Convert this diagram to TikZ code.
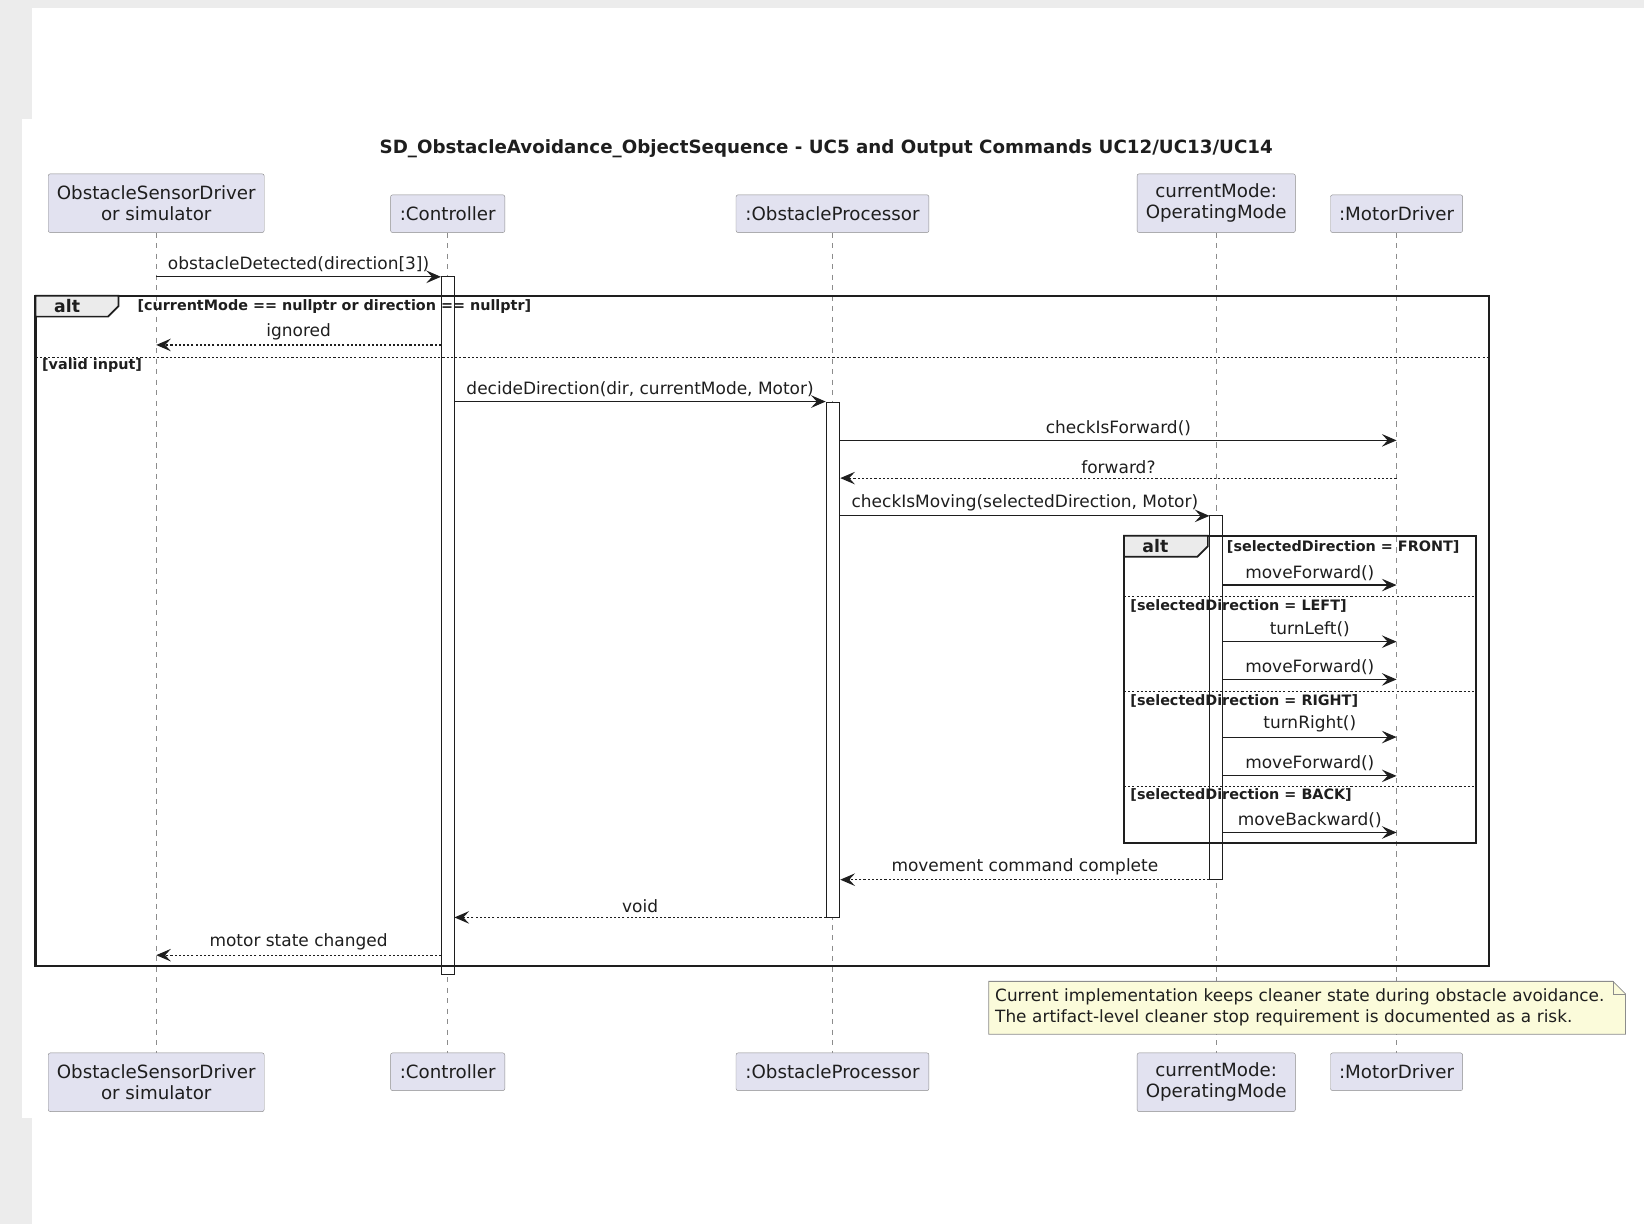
\documentclass[tikz,border=0pt]{standalone}
\usepackage{fontspec}
\setmainfont{DejaVu Sans}
\usetikzlibrary{arrows.meta,positioning,backgrounds}

\definecolor{partfill}{HTML}{E2E2F0}
\definecolor{partline}{HTML}{8C8C8C}
\definecolor{notefill}{HTML}{FBFBDA}
\definecolor{pagegray}{HTML}{ECECEC}
\definecolor{ink}{HTML}{1E1E1E}

\tikzset{
  part/.style={draw=partline, fill=partfill, rounded corners=2pt, align=center,
    inner xsep=8pt, inner ysep=9pt, minimum height=36pt,
    font=\fontsize{17.4}{20}\selectfont, text=ink},
  part2/.style={part, minimum height=56pt},
  life/.style={draw=partline, dash pattern=on 5pt off 5pt, line width=0.8pt},
  act/.style={draw=ink, fill=white, minimum width=12pt, inner sep=0pt, line width=0.9pt},
  frm/.style={draw=ink, line width=2.2pt},
  tabbox/.style={draw=ink, fill=black!8, line width=1.6pt},
  sep/.style={draw=ink, dash pattern=on 2pt off 2pt, line width=0.8pt},
  guard/.style={anchor=west, inner sep=0pt, text=ink, font=\bfseries\fontsize{13.7}{15}\selectfont},
  altlbl/.style={inner sep=0pt, text=ink, font=\bfseries\fontsize{16.5}{18}\selectfont},
  call/.style={draw=ink, line width=1.1pt, -{Stealth[length=14pt,width=12pt,inset=5.5pt]}},
  ret/.style={call, dash pattern=on 2pt off 2pt},
  lbl/.style={midway, anchor=south, inner sep=0pt, yshift=4pt, text=ink,
    font=\fontsize{16.2}{18}\selectfont},
  notebox/.style={draw=partline, fill=notefill, line width=0.8pt},
}

\begin{document}
\begin{tikzpicture}[x=1pt,y=-1pt]
\useasboundingbox (0,0) rectangle (1568,1167);
% ---------- page ----------
\begin{scope}[on background layer]
  \fill[pagegray] (0,0) rectangle (1568,1167);
  \fill[white] (30.5,7.5) rectangle (1568,1167);
  \fill[white] (21,113.5) rectangle (40,1066);
\end{scope}

\node[text=ink, font=\bfseries\fontsize{17.4}{20}\selectfont] (title) at (788,142)
  {SD\_ObstacleAvoidance\_ObjectSequence - UC5 and Output Commands UC12/UC13/UC14};

% ---------- participants, top and bottom ----------
\node[part2, anchor=south, minimum width=206pt] (sensT) at (149,222) {ObstacleSensorDriver\\or simulator};
\node[part, anchor=south, minimum width=109pt] (ctlT) at (427,222) {:Controller};
\node[part, anchor=south, minimum width=184pt] (procT) at (794,222) {:ObstacleProcessor};
\node[part2, anchor=south, minimum width=151pt] (modeT) at (1160,222) {currentMode:\\OperatingMode};
\node[part, anchor=south, minimum width=126pt] (motT) at (1332,222) {:MotorDriver};

\node[part2, anchor=north, minimum width=206pt] (sensB) at (149,1004) {ObstacleSensorDriver\\or simulator};
\node[part, anchor=north, minimum width=109pt] (ctlB) at (427,1004) {:Controller};
\node[part, anchor=north, minimum width=184pt] (procB) at (794,1004) {:ObstacleProcessor};
\node[part2, anchor=north, minimum width=151pt] (modeB) at (1160,1004) {currentMode:\\OperatingMode};
\node[part, anchor=north, minimum width=126pt] (motB) at (1332,1004) {:MotorDriver};

% ---------- lifelines ----------
\begin{scope}[on background layer]
  \draw[life] (sensT) -- (sensB);
  \draw[life] (ctlT) -- (ctlB);
  \draw[life] (procT) -- (procB);
  \draw[life] (modeT) -- (modeB);
  \draw[life] (motT) -- (motB);
\end{scope}

% ---------- activations ----------
\node[act, minimum height=665pt] (ctlA) at (427,596.5) {};
\node[act, minimum height=491pt, minimum width=13pt] (procA) at (794.5,629.5) {};
\node[act, minimum height=347pt] (modeA) at (1160,665.5) {};

% ---------- outer alt ----------
\draw[frm] (34,282) rectangle (1420,921);
\draw[tabbox] (34,282) -- (113,282) -- (113,292) -- (103,302) -- (34,302) -- cycle;
\node[altlbl] (alt1) at (64,292) {alt};
\node[guard] (g1) at (131,292.5) {[currentMode == nullptr or direction == nullptr]};
\draw[sep] (34,341) -- (1420,341);
\node[guard] (g2) at (40,348.5) {[valid input]};

% ---------- inner alt ----------
\draw[frm] (1072,511) rectangle (1408,804);
\draw[tabbox] (1072,511) -- (1152,511) -- (1152,521) -- (1142,531) -- (1072,531) -- cycle;
\node[altlbl] (alt2) at (1102,521) {alt};
\node[guard] (g3) at (1170,521.5) {[selectedDirection = FRONT]};
\draw[sep] (1072,569) -- (1408,569);
\node[guard] (g4) at (1078,577.5) {[selectedDirection = LEFT]};
\draw[sep] (1072,659) -- (1408,659);
\node[guard] (g5) at (1078,668.5) {[selectedDirection = RIGHT]};
\draw[sep] (1072,750) -- (1408,750);
\node[guard] (g6) at (1078,758.5) {[selectedDirection = BACK]};

% ---------- messages ----------
\draw[call] (sensT |- 0,264) -- (ctlA.west |- 0,264) node[lbl] {obstacleDetected(direction[3])};
\draw[ret] (ctlA.west |- 0,329) -- (sensT |- 0,329) node[lbl] {ignored};
\draw[call] (ctlA.east |- 0,383) -- (procA.west |- 0,383) node[lbl] {decideDirection(dir, currentMode, Motor)};
\draw[call] (procA.east |- 0,420) -- (motT |- 0,420) node[lbl] {checkIsForward()};
\draw[ret] (motT |- 0,456) -- (procA.east |- 0,456) node[lbl] {forward?};
\draw[call] (procA.east |- 0,492) -- (modeA.west |- 0,492) node[lbl] {checkIsMoving(selectedDirection, Motor)};
\draw[call] (modeA.east |- 0,558) -- (motT |- 0,558) node[lbl] {moveForward()};
\draw[call] (modeA.east |- 0,612) -- (motT |- 0,612) node[lbl] {turnLeft()};
\draw[call] (modeA.east |- 0,648) -- (motT |- 0,648) node[lbl] {moveForward()};
\draw[call] (modeA.east |- 0,703) -- (motT |- 0,703) node[lbl] {turnRight()};
\draw[call] (modeA.east |- 0,740) -- (motT |- 0,740) node[lbl] {moveForward()};
\draw[call] (modeA.east |- 0,794) -- (motT |- 0,794) node[lbl] {moveBackward()};
\draw[ret] (modeA.west |- 0,839) -- (procA.east |- 0,839) node[lbl] {movement command complete};
\draw[ret] (procA.west |- 0,875) -- (ctlA.east |- 0,875) node[lbl] {void};
\draw[ret] (ctlA.west |- 0,911) -- (sensT |- 0,911) node[lbl] {motor state changed};

% ---------- note ----------
\node[anchor=north west, inner xsep=6pt, inner ysep=0pt, text width=595pt, minimum height=50pt,
  align=left, text=ink, font=\fontsize{16.1}{20}\selectfont] (note) at (943,936)
  {Current implementation keeps cleaner state during obstacle avoidance.\\
   The artifact-level cleaner stop requirement is documented as a risk.};
\begin{scope}[on background layer]
  \draw[notebox] (note.north west) -- ([xshift=-12pt]note.north east)
    -- ([yshift=-12pt]note.north east) -- (note.south east) -- (note.south west) -- cycle;
  \draw[draw=partline, line width=0.8pt] ([xshift=-12pt]note.north east)
    -- ([xshift=-12pt,yshift=-12pt]note.north east) -- ([yshift=-12pt]note.north east);
\end{scope}
\end{tikzpicture}
\end{document}
